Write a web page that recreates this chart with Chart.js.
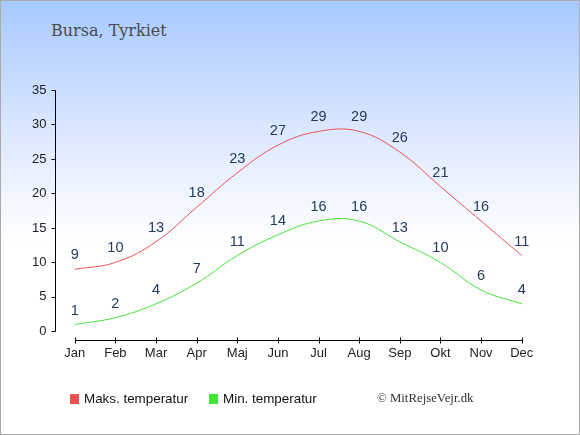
<!DOCTYPE html>
<html>
<head>
<meta charset="utf-8">
<script src="https://cdn.jsdelivr.net/npm/chart.js@4"></script>
<style>
  html, body { margin: 0; padding: 0; background: #fff; }
  #wrap {
    position: relative; width: 580px; height: 435px; box-sizing: border-box;
    border: 1px solid #aaaaaa;
    background: linear-gradient(to bottom, #a7c9ff 0px, #dfeaff 140px, #ffffff 240px, #ffffff 435px);
  }
  #title {
    position: absolute; left: 50px; top: 20px;
    font-family: "DejaVu Serif", serif; font-size: 16px; color: #4a4a4a;
  }
  #copy {
    position: absolute; left: 376px; top: 390px;
    font-family: "Liberation Serif", serif; font-size: 12.8px; color: #333;
  }
  canvas { position: absolute; left: -1px; top: -1px; }
</style>
</head>
<body>
<div id="wrap">
  <div id="title">Bursa, Tyrkiet</div>
  <canvas id="chart" width="580" height="435"></canvas>
  <div id="copy">© MitRejseVejr.dk</div>
</div>
<script>
'use strict';

/*** DATA ***/

var months = ['Jan', 'Feb', 'Mar', 'Apr', 'Maj', 'Jun', 'Jul', 'Aug', 'Sep', 'Okt', 'Nov', 'Dec'];
var maxTemps = [9, 10, 13, 18, 23, 27, 29, 29, 26, 21, 16, 11];
var minTemps = [1, 2, 4, 7, 11, 14, 16, 16, 13, 10, 6, 4];
var seriesNames = ['Maks. temperatur', 'Min. temperatur'];
var yTicks = [0, 5, 10, 15, 20, 25, 30, 35];

var red = '#f05050';
var green = '#44e634';

/*** PLUGINS ***/

// value labels above each point
var valueLabels = {
  id: 'valueLabels',
  afterDatasetsDraw: function(chart) {
    var ctx = chart.ctx;
    ctx.save();
    ctx.font = '14.5px "Liberation Sans", Arial, sans-serif';
    ctx.fillStyle = '#233a5c';
    ctx.textAlign = 'center';
    ctx.textBaseline = 'middle';
    chart.data.datasets.forEach(function(ds, i) {
      var meta = chart.getDatasetMeta(i);
      meta.data.forEach(function(pt, j) {
        ctx.fillText(ds.data[j], pt.x, pt.y - 14);
      });
    });
    ctx.restore();
  }
};

// axis lines drawn apart from each other like the original
var axisLines = {
  id: 'axisLines',
  afterDraw: function(chart) {
    var ctx = chart.ctx;
    var x = chart.scales.x;
    var y = chart.scales.y;
    var ax = Math.round(chart.chartArea.left) + 1.5;
    var y0 = y.getPixelForValue(0);
    var xy = Math.round(y0) + 9.5;
    ctx.save();
    ctx.strokeStyle = '#000';
    ctx.lineWidth = 1;
    ctx.beginPath();
    ctx.moveTo(ax, Math.round(y.getPixelForValue(35)) + 0.5);
    ctx.lineTo(ax, Math.round(y0) + 0.5);
    yTicks.forEach(function(v) {
      var py = Math.round(y.getPixelForValue(v)) + 0.5;
      ctx.moveTo(ax - 4, py);
      ctx.lineTo(ax, py);
    });
    ctx.moveTo(Math.round(x.getPixelForValue(0)) + 0.5, xy);
    ctx.lineTo(Math.round(x.getPixelForValue(months.length - 1)) + 0.5, xy);
    months.forEach(function(m, i) {
      var px = Math.round(x.getPixelForValue(i)) + 0.5;
      ctx.moveTo(px, xy - 3);
      ctx.lineTo(px, xy + 3);
    });
    ctx.stroke();
    ctx.restore();
  }
};

// legend at the bottom
var bottomLegend = {
  id: 'bottomLegend',
  afterDraw: function(chart) {
    var ctx = chart.ctx;
    var xs = [70, 209];
    ctx.save();
    ctx.font = '13.4px "Liberation Sans", Arial, sans-serif';
    ctx.textBaseline = 'middle';
    chart.data.datasets.forEach(function(ds, i) {
      ctx.fillStyle = ds.borderColor;
      ctx.fillRect(xs[i], 394, 9, 10);
      ctx.fillStyle = '#111';
      ctx.fillText(ds.label, xs[i] + 14, 399);
    });
    ctx.restore();
  }
};

/*** CHART ***/

var makeChart = function() {
  var ctx = document.getElementById('chart').getContext('2d');
  return new Chart(ctx, {
    type: 'line',
    data: {
      labels: months,
      datasets: [{
        label: seriesNames[0],
        data: maxTemps,
        borderColor: red,
        backgroundColor: red,
        borderWidth: 1,
        pointRadius: 0,
        tension: 0.4
      }, {
        label: seriesNames[1],
        data: minTemps,
        borderColor: green,
        backgroundColor: green,
        borderWidth: 1,
        pointRadius: 0,
        tension: 0.4
      }]
    },
    options: {
      responsive: false,
      animation: false,
      layout: { padding: { left: 24, right: 38, top: 90, bottom: 60 } },
      plugins: {
        legend: { display: false },
        tooltip: { enabled: false }
      },
      scales: {
        x: {
          offset: true,
          grid: { display: false, drawTicks: false },
          border: { display: false },
          ticks: {
            padding: 14,
            color: '#222',
            font: { family: '"Liberation Sans", Arial, sans-serif', size: 13 }
          }
        },
        y: {
          min: 0,
          max: 35,
          grid: { display: false, drawTicks: false },
          border: { display: false },
          ticks: {
            stepSize: 5,
            padding: 8,
            color: '#222',
            font: { family: '"Liberation Sans", Arial, sans-serif', size: 13 }
          }
        }
      }
    },
    plugins: [valueLabels, axisLines, bottomLegend]
  });
};

makeChart();
</script>
</body>
</html>
